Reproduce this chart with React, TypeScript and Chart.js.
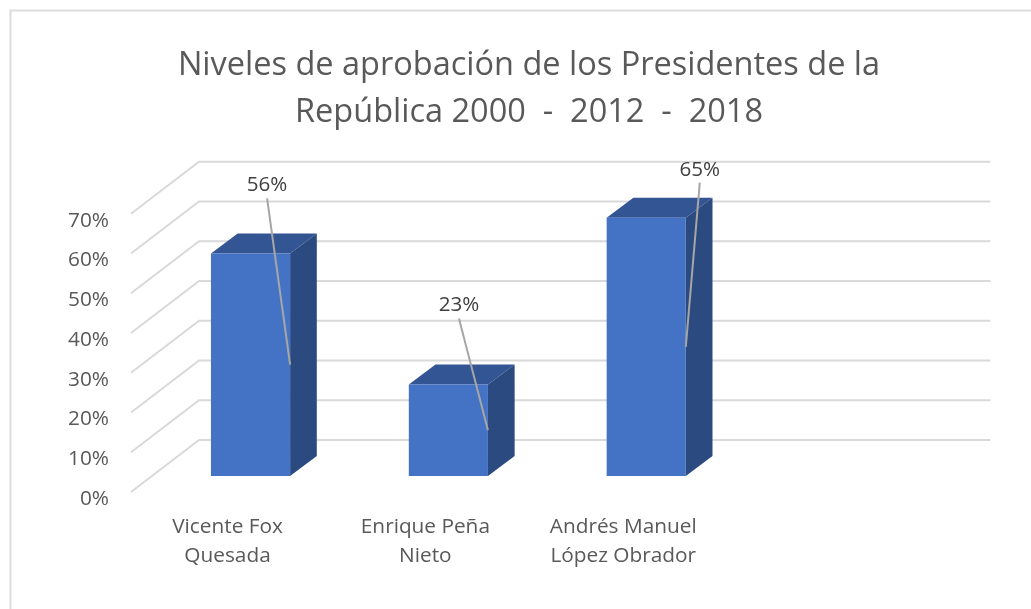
import React, { useEffect, useRef } from "react";
import { Chart, registerables } from "chart.js";

Chart.register(...registerables);

const FONT = "'Open Sans', sans-serif";

const titleLines = ["Niveles de aprobación de los Presidentes de la", "República 2000  -  2012  -  2018"];
const presidents = [["Vicente Fox", "Quesada"], ["Enrique Peña", "Nieto"], ["Andrés Manuel", "López Obrador"], ""];
const approval = [56, 23, 65, null];
const yTicks = [0, 10, 20, 30, 40, 50, 60, 70];

// Callout placement for each value label, relative to the bar's top right corner.
const calloutOffsets = [
  { dx: -23, dy: -55, textGap: 13 },
  { dx: -29, dy: -66, textGap: 13 },
  { dx: 14, dy: -35, textGap: 13 },
];

// Depth vectors of the pseudo 3D box, in pixels.
const BAR_DEPTH = { x: 26.7, y: -20 };
const WALL_BACK = { x: 47.4, y: -36 };
const WALL_FRONT = { x: -20.6, y: 16 };

const cube3d = {
  id: "cube3d",
  beforeDatasetsDraw(chart: any) {
    const { ctx, chartArea, scales } = chart;
    const y = scales.y;
    ctx.save();

    // Chart frame, cut off by the page on the right and bottom.
    ctx.strokeStyle = "#dcdcdc";
    ctx.lineWidth = 2;
    ctx.beginPath();
    ctx.moveTo(10.5, 609);
    ctx.lineTo(10.5, 10.5);
    ctx.lineTo(1031, 10.5);
    ctx.stroke();

    // Back wall and side wall gridlines.
    ctx.strokeStyle = "#d9d9d9";
    ctx.lineWidth = 2;
    yTicks.forEach((t) => {
      const py = y.getPixelForValue(t);
      ctx.beginPath();
      ctx.moveTo(chartArea.left + WALL_FRONT.x, py + WALL_FRONT.y);
      ctx.lineTo(chartArea.left + WALL_BACK.x, py + WALL_BACK.y);
      ctx.lineTo(chartArea.right + WALL_BACK.x, py + WALL_BACK.y);
      ctx.stroke();
    });

    // Top and side faces of every bar.
    chart.getDatasetMeta(0).data.forEach((bar: any, i: number) => {
      if (approval[i] == null) return;
      const left = bar.x - bar.width / 2;
      const right = bar.x + bar.width / 2;
      ctx.fillStyle = "#335593";
      ctx.beginPath();
      ctx.moveTo(left, bar.y);
      ctx.lineTo(left + BAR_DEPTH.x, bar.y + BAR_DEPTH.y);
      ctx.lineTo(right + BAR_DEPTH.x, bar.y + BAR_DEPTH.y);
      ctx.lineTo(right, bar.y);
      ctx.closePath();
      ctx.fill();
      ctx.fillStyle = "#2a4a80";
      ctx.beginPath();
      ctx.moveTo(right, bar.y);
      ctx.lineTo(right + BAR_DEPTH.x, bar.y + BAR_DEPTH.y);
      ctx.lineTo(right + BAR_DEPTH.x, bar.base + BAR_DEPTH.y);
      ctx.lineTo(right, bar.base);
      ctx.closePath();
      ctx.fill();
    });
    ctx.restore();
  },
  afterDatasetsDraw(chart: any) {
    const { ctx } = chart;
    ctx.save();
    chart.getDatasetMeta(0).data.forEach((bar: any, i: number) => {
      const value = approval[i];
      if (value == null) return;
      const right = bar.x + bar.width / 2;
      const place = calloutOffsets[i];
      const sx = right + place.dx;
      const sy = bar.y + place.dy;
      ctx.strokeStyle = "#a6a6a6";
      ctx.lineWidth = 2;
      ctx.beginPath();
      ctx.moveTo(sx, sy);
      ctx.lineTo(right, (bar.y + bar.base) / 2);
      ctx.stroke();
      ctx.fillStyle = "#404040";
      ctx.font = `20.6px ${FONT}`;
      ctx.textAlign = "center";
      ctx.textBaseline = "middle";
      ctx.fillText(`${value}%`, sx, sy - place.textGap);
    });
    ctx.restore();
  },
};

export default function App() {
  const ref = useRef<HTMLCanvasElement>(null);

  useEffect(() => {
    const chart = new Chart(ref.current!, {
      type: "bar",
      data: {
        labels: presidents as any,
        datasets: [
          {
            data: approval as any,
            backgroundColor: "#4472c4",
            borderWidth: 0,
            barPercentage: 0.4,
            categoryPercentage: 1,
            yAxisID: "y",
          },
        ],
      },
      plugins: [cube3d],
      options: {
        responsive: false,
        animation: false,
        layout: { padding: { left: 27, right: 0, top: 0, bottom: 0 } },
        plugins: {
          legend: { display: false },
          tooltip: { enabled: false },
          title: {
            display: true,
            text: titleLines,
            color: "#595959",
            font: { family: FONT, size: 32.5, weight: "normal", lineHeight: 47 / 32.5 },
            padding: { top: 42.5, bottom: 61.25 },
          },
        },
        scales: {
          x: {
            grid: { display: false, drawTicks: false },
            border: { display: false },
            ticks: {
              color: "#595959",
              font: { family: FONT, size: 20.8, lineHeight: 29 / 20.8 },
              padding: 37,
              labelOffset: -23,
              maxRotation: 0,
              minRotation: 0,
              autoSkip: false,
            },
            afterFit(scale: any) {
              scale.height = 133;
            },
          },
          y: {
            position: "left",
            min: 0,
            max: 70,
            grid: { display: false, drawTicks: false },
            border: { display: false },
            ticks: {
              stepSize: 10,
              color: "#595959",
              font: { family: FONT, size: 20.8 },
              padding: 42.6,
              labelOffset: 23,
              callback: (v: any) => `${v}%`,
            },
            afterFit(scale: any) {
              scale.width = 124.6;
            },
          },
          rightGutter: {
            position: "right",
            min: 0,
            max: 70,
            grid: { display: false, drawTicks: false },
            border: { display: false },
            ticks: { display: false },
            afterFit(scale: any) {
              scale.width = 88;
            },
          },
        },
      } as any,
    });
    return () => chart.destroy();
  }, []);

  return (
    <canvas
      ref={ref}
      width={1031}
      height={609}
      style={{ position: "absolute", left: 0, top: 0, display: "block" }}
    />
  );
}
